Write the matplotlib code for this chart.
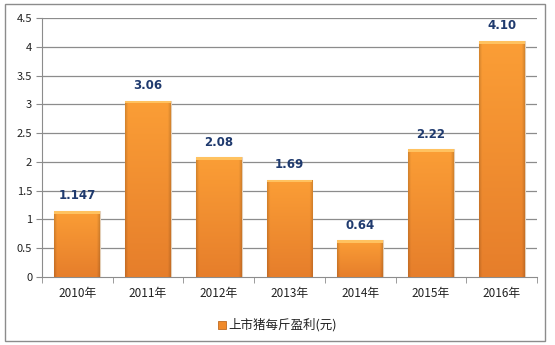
import matplotlib
matplotlib.use("Agg")
import matplotlib.pyplot as plt
import numpy as np
from matplotlib.patches import Rectangle

plt.rcParams['font.family'] = ['Noto Sans CJK SC', 'DejaVu Sans']

categories = ["2010年", "2011年", "2012年", "2013年", "2014年", "2015年", "2016年"]
values = [1.147, 3.06, 2.08, 1.69, 0.64, 2.22, 4.10]
labels = ["1.147", "3.06", "2.08", "1.69", "0.64", "2.22", "4.10"]
yticks = [0, 0.5, 1, 1.5, 2, 2.5, 3, 3.5, 4, 4.5]
ytick_labels = ["0", "0.5", "1", "1.5", "2", "2.5", "3", "3.5", "4", "4.5"]
legend_label = "上市猪每斤盈利(元)"

W, H = 555, 345
fig = plt.figure(figsize=(W/100, H/100), dpi=100)
fig.patch.set_facecolor("white")
fig.patches.append(Rectangle((5/W, 4/H), 540/W, 337/H, transform=fig.transFigure,
                             fill=False, edgecolor="#8c8c8c", linewidth=1.0))

ax = fig.add_axes([42/W, 1 - 277/H, (537-42)/W, (277-18)/H])
x = np.arange(len(categories))
bw = 0.65
ax.set_xlim(-0.5, len(categories) - 0.5)
ax.set_ylim(0, 4.5)

for yv in yticks[1:]:
    ax.axhline(yv, color="#8c8c8c", linewidth=0.9, zorder=0)

top_c = np.array([0xfb, 0x9e, 0x36]) / 255
bot_c = np.array([0xe6, 0x7e, 0x2b]) / 255
bars = ax.bar(x, values, width=bw, color="#f7942f", edgecolor="#e3cfb8", linewidth=0.8, zorder=2)
for b in bars:
    x0, y0 = b.get_x(), b.get_y()
    w, h = b.get_width(), b.get_height()
    ny, nx = 100, 60
    t = np.linspace(0, 1, ny).reshape(-1, 1, 1)
    rgb = bot_c + (top_c - bot_c) * t
    rgb = np.repeat(rgb, nx, axis=1)
    xs = np.linspace(0, 1, nx)
    edge = np.clip(1 - np.minimum(xs, 1 - xs) / 0.06, 0, 1)
    rgb = rgb * (1 - 0.15 * edge.reshape(1, -1, 1))
    im = ax.imshow(rgb, extent=[x0, x0 + w, y0, y0 + h], origin="lower", aspect="auto",
                   zorder=3, interpolation="bilinear")
    im.set_clip_path(b)
    cap = 0.045
    ax.add_patch(Rectangle((x0, y0 + h - cap), w, cap, facecolor="#ffc260", edgecolor="none", zorder=4))

for xi, v, lab in zip(x, values, labels):
    ax.text(xi, v + 0.15, lab, ha="center", va="bottom", fontsize=8.5, fontweight="bold",
            color="#1f3a6e", family=["DejaVu Sans"])

ax.set_xticks(x)
ax.set_xticklabels(categories, fontsize=8.5, color="#222222")
ax.set_xticks(np.arange(-0.5, len(categories)), minor=True)
ax.tick_params(axis="x", which="major", length=0, pad=7)
ax.tick_params(axis="x", which="minor", length=4, color="#8c8c8c", direction="out")
ax.set_yticks(yticks)
ax.set_yticklabels(ytick_labels, fontsize=8, color="#222222")
ax.tick_params(axis="y", length=4, color="#8c8c8c", direction="out", pad=3)
for s in ["top", "right"]:
    ax.spines[s].set_visible(False)
ax.spines["left"].set_color("#8c8c8c")
ax.spines["bottom"].set_color("#8c8c8c")

lx, ly = 218, 325
fig.patches.append(Rectangle(((lx)/W, 1 - (ly + 4)/H), 8/W, 8/H, transform=fig.transFigure,
                             facecolor="#f08a2a", edgecolor="#c06a20", linewidth=0.6))
fig.text((lx + 10)/W, 1 - ly/H, legend_label, fontsize=9, va="center", ha="left", color="#222222")

fig.savefig("out.png", dpi=100, facecolor="white")
